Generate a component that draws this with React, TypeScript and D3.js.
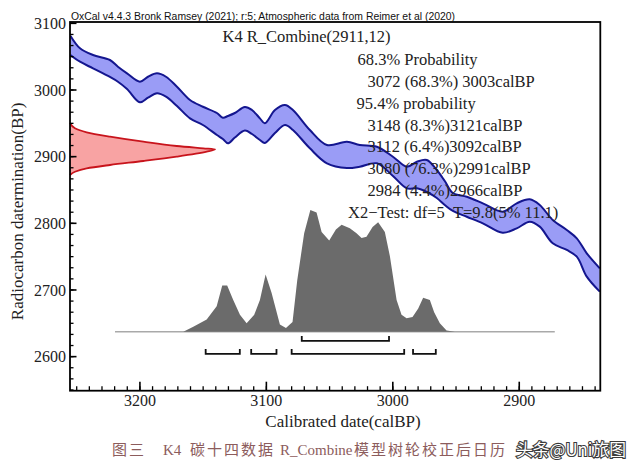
import React from 'react';
import * as d3 from 'd3';

// calibration curve (IntCal20 band)
const curveCal = [3255, 3247.4, 3237.1, 3223.7, 3217.4, 3210.2, 3200, 3193.6, 3186.5, 3179.4, 3170.7, 3160.4, 3150.2, 3139.1, 3134.4, 3130.4, 3124.9, 3117, 3111.4, 3105.1, 3101.2, 3093.2, 3085.3, 3079, 3065.6, 3052.1, 3036.3, 3026.1, 3012.6, 2999.9, 2988.9, 2981, 2973.1, 2965.2, 2958.9, 2952.5, 2941.5, 2928.8, 2913.1, 2902, 2891.7, 2883.8, 2873.5, 2862.4, 2854.5, 2846.6, 2836.3];
const curveUpper = [3081.4, 3062.5, 3052.5, 3045, 3034.9, 3025, 3012.4, 3019.9, 3025, 3019.9, 3004.9, 2985, 2974.9, 2965.5, 2958.4, 2961, 2965.5, 2974.5, 2970, 2957.5, 2950, 2970, 2977.5, 2970, 2940, 2917.5, 2922.4, 2917.5, 2914.9, 2899.9, 2884.9, 2892.4, 2895, 2880, 2863.5, 2845.5, 2839.9, 2830, 2817.4, 2830, 2836, 2827.5, 2805, 2790, 2777.5, 2755, 2732.5];
const curveLower = [3052.5, 3042.4, 3032.5, 3019.5, 3012.4, 3001.5, 2981.5, 2988.4, 2995, 2989.9, 2976, 2957.5, 2947.5, 2932.5, 2926.5, 2920, 2928.7, 2939.2, 2934, 2925, 2920.5, 2935.5, 2947.5, 2940, 2912.5, 2890, 2883, 2884.9, 2890, 2871, 2852.5, 2852.5, 2847, 2838, 2827.5, 2818.5, 2809.9, 2800, 2785.9, 2792.5, 2802.4, 2795, 2770, 2760, 2750, 2720, 2697.5];

// R_Combine(2911,12) radiocarbon date
const dateBP = [2950.5, 2942.5, 2936.5, 2930, 2922.4, 2916, 2912.5, 2911, 2907.4, 2900, 2893.5, 2887.5, 2882.5, 2877.4, 2872.5];
const dateProb = [0, 0.034, 0.115, 0.276, 0.506, 0.736, 0.92, 1, 0.943, 0.736, 0.506, 0.276, 0.115, 0.034, 0];

// calibrated distribution
const calCal = [3219.7, 3165.7, 3157.8, 3147.2, 3139.3, 3134.9, 3131.0, 3126.2, 3120.9, 3115.6, 3109.6, 3105.1, 3100.6, 3095.9, 3089.3, 3084.5, 3079.3, 3075.6, 3070.1, 3065.2, 3060.3, 3056.3, 3050.3, 3045.0, 3040.5, 3034.0, 3028.7, 3024.7, 3020.8, 3016.0, 3011.6, 3006.3, 3002.3, 2997.0, 2993.1, 2989.1, 2984.4, 2979.9, 2976.0, 2970.7, 2967.3, 2962.8, 2957.5, 2950.9, 2871.9];
const calProb = [0, 0, 0.04, 0.10, 0.21, 0.38, 0.38, 0.26, 0.14, 0.07, 0.14, 0.26, 0.47, 0.32, 0.06, 0.03, 0.08, 0.42, 0.81, 1.0, 0.98, 0.82, 0.75, 0.84, 0.88, 0.85, 0.81, 0.77, 0.78, 0.86, 0.90, 0.82, 0.62, 0.26, 0.14, 0.11, 0.12, 0.19, 0.28, 0.26, 0.16, 0.07, 0.01, 0, 0];

// probability ranges
const range68 = [[3072, 3003]];
const range95 = [[3148, 3121], [3112, 3092], [3080, 2991], [2984, 2966]];

const xTicks = [3200, 3100, 3000, 2900];
const yTicks = [3100, 3000, 2900, 2800, 2700, 2600];

const legendLines = [
  'K4 R_Combine(2911,12)',
  '68.3% Probability',
  '3072 (68.3%) 3003calBP',
  '95.4% probability',
  '3148 (8.3%)3121calBP',
  '3112 (6.4%)3092calBP',
  '3080 (76.3%)2991calBP',
  '2984 (4.4%)2966calBP',
  'X2\u2212Test: df=5\u00a0\u00a0T=9.8(5% 11.1)',
];
const legendX = [222.5, 357.5, 367.5, 356.5, 367.5, 367.5, 367.5, 367.5, 348];
const legendY = [42, 65, 87, 108.5, 130.5, 152, 174, 196, 218];

// caption pieces
const captionParts = ['图三', 'K4', '碳十四数据', 'R_Combine', '模型树轮校正后日历'];
const captionX = [112, 163, 190, 280, 354];

const SERIF = "'Liberation Serif', 'Times New Roman', serif";

const App: React.FC = () => {
  const width = 640;
  const height = 472;
  const left = 70, right = 600.3, top = 22, bottom = 390.7;

  const x = d3.scaleLinear().domain([3255.3, 2835.9]).range([left, right]);
  const y = d3.scaleLinear().domain([2548.9, 3102]).range([bottom, top]);

  // density scales
  const dx = d3.scaleLinear().domain([0, 1]).range([left, left + 145]);
  const dy = d3.scaleLinear().domain([0, 1]).range([y(2637.4), y(2819.9)]);

  const band = curveCal.map((c, i) => ({ c, hi: curveUpper[i], lo: curveLower[i] }));
  const bandArea = d3.area<any>()
    .x(d => x(d.c)).y0(d => y(d.lo)).y1(d => y(d.hi))
    .curve(d3.curveCatmullRom.alpha(0.5));
  const hiLine = d3.line<any>().x(d => x(d.c)).y(d => y(d.hi)).curve(d3.curveCatmullRom.alpha(0.5));
  const loLine = d3.line<any>().x(d => x(d.c)).y(d => y(d.lo)).curve(d3.curveCatmullRom.alpha(0.5));

  const dateData = dateBP.map((b, i) => ({ b, p: dateProb[i] }));
  const dateArea = d3.area<any>()
    .y(d => y(d.b)).x0(dx(0)).x1(d => dx(d.p))
    .curve(d3.curveMonotoneY);
  const dateLine = d3.line<any>().y(d => y(d.b)).x(d => dx(d.p)).curve(d3.curveMonotoneY);

  const calData = calCal.map((c, i) => ({ c, p: calProb[i] }));
  const calArea = d3.area<any>().x(d => x(d.c)).y0(dy(0)).y1(d => dy(d.p));

  const yMinor = d3.range(2550, 3101, 100 / 6);
  const xMinor = d3.range(2840, 3256, 10);

  const bracket = (r: number[], level: number, key: string) => {
    const yy = y(level);
    return (
      <path key={key}
        d={`M${x(r[0])},${yy - 5}V${yy}H${x(r[1])}V${yy - 5}`}
        fill="none" stroke="#111" strokeWidth={1.8} />
    );
  };

  return (
    <svg width={width} height={height} style={{ position: 'absolute', left: 0, top: 0, background: '#fff' }}>
      <defs>
        <clipPath id="plot">
          <rect x={left} y={top} width={right - left} height={bottom - top} />
        </clipPath>
      </defs>

      {/* calibration curve */}
      <g clipPath="url(#plot)">
        <path d={bandArea(band) || ''} fill="#9a9cf6" />
        <path d={hiLine(band) || ''} fill="none" stroke="#14168f" strokeWidth={2} />
        <path d={loLine(band) || ''} fill="none" stroke="#14168f" strokeWidth={2} />
      </g>

      {/* radiocarbon date */}
      <path d={dateArea(dateData) || ''} fill="#f8a3a3" />
      <path d={dateLine(dateData) || ''} fill="none" stroke="#c8141c" strokeWidth={1.8} />

      {/* calibrated date */}
      <line x1={x(calCal[0])} x2={x(calCal[calCal.length - 1])} y1={dy(0)} y2={dy(0)} stroke="#a9a9a9" strokeWidth={1.6} />
      <path d={calArea(calData) || ''} fill="#6b6b6b" />

      {/* ranges */}
      {range68.map((r, i) => bracket(r, 2623.5, 'a' + i))}
      {range95.map((r, i) => bracket(r, 2604, 'b' + i))}

      {/* frame and ticks */}
      <rect x={left} y={top} width={right - left} height={bottom - top} fill="none" stroke="#000" strokeWidth={1.8} />
      {yMinor.map(v => (
        <line key={'ym' + v} x1={left} x2={left + 3.5} y1={y(v)} y2={y(v)} stroke="#000" strokeWidth={1.3} />
      ))}
      {yTicks.map(v => (
        <g key={'y' + v}>
          <line x1={left} x2={left + 6.5} y1={y(v)} y2={y(v)} stroke="#000" strokeWidth={1.6} />
          <text x={left - 4} y={y(v)} dy="0.35em" textAnchor="end" fontFamily={SERIF} fontSize={16} fill="#222">{v}</text>
        </g>
      ))}
      {xMinor.map(v => (
        <line key={'xm' + v} x1={x(v)} x2={x(v)} y1={bottom} y2={bottom - 4.5} stroke="#000" strokeWidth={1.3} />
      ))}
      {xTicks.map(v => (
        <g key={'x' + v}>
          <line x1={x(v)} x2={x(v)} y1={bottom} y2={bottom - 9} stroke="#000" strokeWidth={1.6} />
          <text x={x(v)} y={405.5} textAnchor="middle" fontFamily={SERIF} fontSize={16} fill="#222">{v}</text>
        </g>
      ))}

      {/* axis titles */}
      <text transform={`translate(23,${(top + bottom) / 2 + 5}) rotate(-90)`} textAnchor="middle" fontFamily={SERIF} fontSize={17} fill="#222">Radiocarbon datermination(BP)</text>
      <text x={343} y={427} textAnchor="middle" fontFamily={SERIF} fontSize={17} fill="#222">Calibrated date(calBP)</text>

      {/* header */}
      <text x={71} y={20} fontFamily="'Liberation Sans', Arial, sans-serif" fontSize={10} textLength={384} lengthAdjust="spacingAndGlyphs" fill="#111">
        OxCal v4.4.3 Bronk Ramsey (2021); r:5; Atmospheric data from Reimer et al (2020)
      </text>

      {/* legend */}
      {legendLines.map((t, i) => (
        <text key={'l' + i} x={legendX[i]} y={legendY[i]} fontFamily={SERIF} fontSize={16.5} fill="#222" style={{ whiteSpace: 'pre' }}>{t}</text>
      ))}

      {/* caption */}
      <text y={455} fontFamily="'Liberation Serif', 'Noto Sans CJK SC', serif" fontSize={15} fill="#8c5c5c">
        {captionParts.map((t, i) => (
          <tspan key={'c' + i} x={captionX[i]} letterSpacing={/[A-Za-z]/.test(t) ? 0 : 2}>{t}</tspan>
        ))}
      </text>
      <text x={516} y={456} fontFamily="'Noto Sans CJK SC', sans-serif" fontSize={17} fill="#fff" stroke="#3a3a3a" strokeWidth={2.2} paintOrder="stroke" textLength={110} lengthAdjust="spacingAndGlyphs">
        头条@Uni旅图
      </text>
    </svg>
  );
};

export default App;
